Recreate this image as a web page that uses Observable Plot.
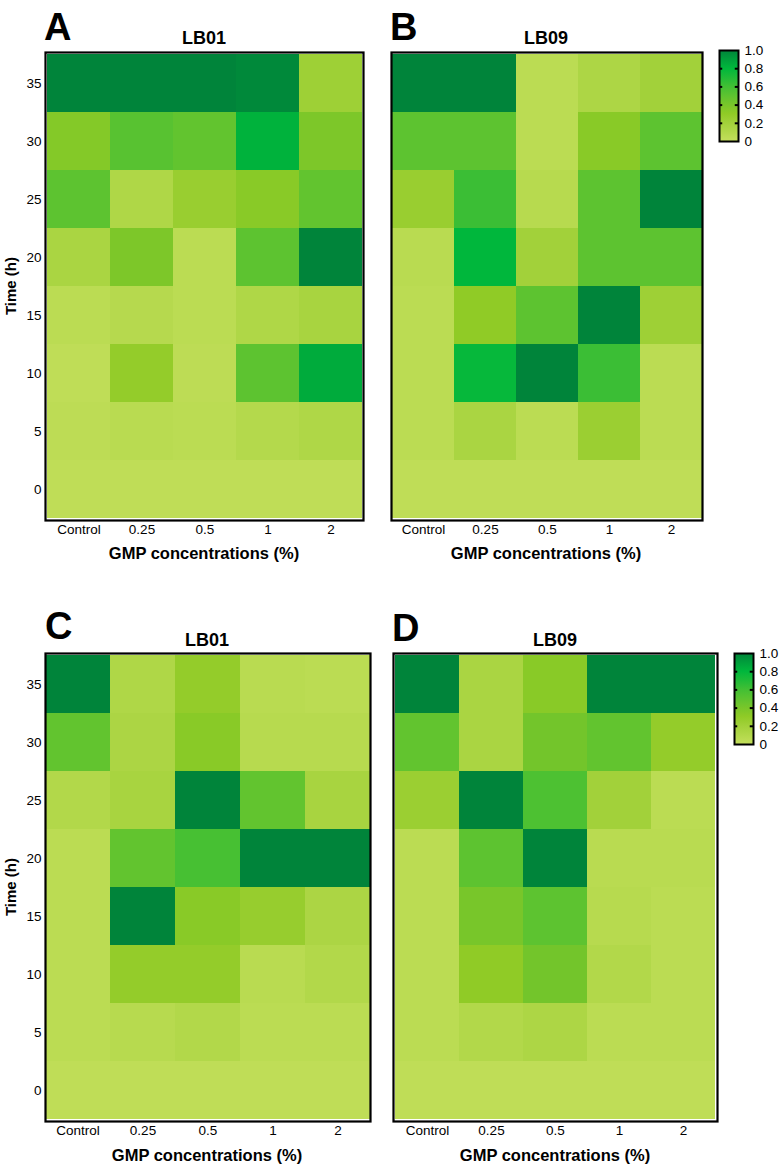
<!DOCTYPE html>
<html>
<head>
<meta charset="utf-8">
<script src="https://cdn.jsdelivr.net/npm/d3@7"></script>
<script src="https://cdn.jsdelivr.net/npm/@observablehq/plot@0.6"></script>
<style>
  html, body { margin: 0; padding: 0; background: #fff; }
  body { width: 782px; height: 1167px; position: relative; overflow: hidden;
         font-family: "Liberation Sans", Arial, sans-serif; color: #000; }
  .abs { position: absolute; }
  .letter { font-weight: bold; font-size: 38px; line-height: 1; }
  .ptitle { font-weight: bold; font-size: 18px; line-height: 1; transform: translate(-50%, -50%); white-space: nowrap; }
  .xtitle { font-weight: bold; font-size: 16.5px; line-height: 1; transform: translate(-50%, -50%); white-space: nowrap; }
  .ytitle { font-weight: bold; font-size: 15px; line-height: 1; transform: translate(-50%, -50%) rotate(-90deg); white-space: nowrap; }
  svg { overflow: visible; }
</style>
</head>
<body>
<svg width="0" height="0" style="position:absolute">
  <defs><linearGradient id="legendGrad" x1="0" y1="1" x2="0" y2="0"></linearGradient></defs>
</svg>
<script>
// ---- data ----
const concentrations = ["Control", "0.25", "0.5", "1", "2"];
const times = [0, 5, 10, 15, 20, 25, 30, 35];

// rows are times 0..35, columns are concentrations
const panelA = [
  [0.03, 0.03, 0.03, 0.03, 0.03],
  [0.04, 0.06, 0.05, 0.09, 0.12],
  [0.03, 0.28, 0.04, 0.50, 0.85],
  [0.05, 0.08, 0.05, 0.12, 0.16],
  [0.15, 0.38, 0.05, 0.50, 1.00],
  [0.50, 0.12, 0.25, 0.33, 0.48],
  [0.35, 0.52, 0.48, 0.82, 0.38],
  [1.00, 1.00, 1.00, 0.98, 0.22]
];
const panelB = [
  [0.03, 0.03, 0.03, 0.03, 0.03],
  [0.05, 0.15, 0.05, 0.24, 0.05],
  [0.05, 0.78, 1.00, 0.62, 0.05],
  [0.05, 0.30, 0.50, 1.00, 0.22],
  [0.06, 0.80, 0.20, 0.50, 0.50],
  [0.25, 0.62, 0.07, 0.50, 1.00],
  [0.50, 0.50, 0.05, 0.33, 0.50],
  [1.00, 1.00, 0.05, 0.13, 0.20]
];
const panelC = [
  [0.03, 0.03, 0.03, 0.03, 0.03],
  [0.05, 0.07, 0.10, 0.05, 0.05],
  [0.05, 0.28, 0.28, 0.06, 0.10],
  [0.05, 1.00, 0.33, 0.26, 0.14],
  [0.05, 0.48, 0.58, 1.00, 1.00],
  [0.10, 0.16, 1.00, 0.48, 0.16],
  [0.48, 0.14, 0.33, 0.07, 0.07],
  [1.00, 0.12, 0.28, 0.06, 0.05]
];
const panelD = [
  [0.03, 0.03, 0.03, 0.03, 0.03],
  [0.05, 0.10, 0.13, 0.05, 0.05],
  [0.05, 0.30, 0.42, 0.10, 0.05],
  [0.05, 0.40, 0.50, 0.07, 0.05],
  [0.05, 0.50, 1.00, 0.06, 0.06],
  [0.24, 1.00, 0.56, 0.20, 0.05],
  [0.48, 0.15, 0.42, 0.48, 0.28],
  [1.00, 0.15, 0.33, 1.00, 1.00]
];
const legendTicks = [0, 0.2, 0.4, 0.6, 0.8, 1.0];

// ---- styling ----
const colorStops = [0, 0.1, 0.2, 0.3, 0.4, 0.5, 0.6, 0.7, 0.8, 0.9, 1];
const colorRamp = ["#c4df5c", "#b2d84a", "#a2d13a", "#90cb26", "#78c62a", "#5dc330",
                   "#42bf34", "#1fbb38", "#00b73c", "#009e3b", "#00843a"];
const colorScale = { type: "linear", domain: colorStops, range: colorRamp, clamp: true };
const FONT = '"Liberation Sans", Arial, sans-serif';

// gradient for legends
const grad = document.getElementById("legendGrad");
colorStops.forEach((s, i) => {
  const st = document.createElementNS("http://www.w3.org/2000/svg", "stop");
  st.setAttribute("offset", s);
  st.setAttribute("stop-color", colorRamp[i]);
  grad.appendChild(st);
});

function toTable(m) {
  return times.flatMap((t, i) => concentrations.map((c, j) => ({ t, c, v: m[i][j] })));
}

function place(el, left, top) {
  el.style.position = "absolute";
  el.style.left = left + "px";
  el.style.top = top + "px";
  document.body.appendChild(el);
}
function label(cls, text, x, y) {
  const d = document.createElement("div");
  d.className = "abs " + cls;
  d.textContent = text;
  d.style.left = x + "px";
  d.style.top = y + "px";
  document.body.appendChild(d);
}

function heatmap(m, { left, top, width, ml, mr, showY }) {
  const mt = 2, mb = 48, fh = 468;
  const yScale = { type: "band", domain: times.slice().reverse(), padding: 0, label: null };
  if (!showY) yScale.axis = null;
  const p = Plot.plot({
    width, height: mt + fh + mb,
    marginLeft: ml, marginRight: mr, marginTop: mt, marginBottom: mb,
    style: { fontFamily: FONT, fontSize: "13.5px", color: "#000", background: "transparent" },
    x: { type: "band", domain: concentrations, padding: 0, label: null },
    y: yScale,
    color: colorScale,
    marks: [
      Plot.cell(toTable(m), { x: "c", y: "t", fill: "v", inset: 0 }),
      Plot.frame({ stroke: "#000", strokeWidth: 2.2 }),
      Plot.axisX({ tickSize: 0, tickPadding: 4, fontSize: 13.5, label: null }),
      showY ? Plot.axisY({ tickSize: 0, tickPadding: 4, fontSize: 13.5, label: null }) : null
    ]
  });
  place(p, left, top);
}

function legend(left, top) {
  const h = 91, w = 19;
  const p = Plot.plot({
    width: 2 + w + 40, height: h + 12,
    marginLeft: 2, marginRight: 40, marginTop: 6, marginBottom: 6,
    style: { fontFamily: FONT, fontSize: "13.5px", color: "#000", background: "transparent" },
    x: { domain: [0, 1], axis: null },
    y: { domain: [0, 1], label: null },
    marks: [
      Plot.rect([0], { x1: 0, x2: 1, y1: 0, y2: 1, fill: "url(#legendGrad)" }),
      Plot.ruleY(legendTicks.slice(1, -1), { x1: 0, x2: 0.17, stroke: "#000", strokeWidth: 2 }),
      Plot.ruleY(legendTicks.slice(1, -1), { x1: 0.83, x2: 1, stroke: "#000", strokeWidth: 2 }),
      Plot.frame({ stroke: "#000", strokeWidth: 2 }),
      Plot.axisY(legendTicks, { anchor: "right", tickSize: 0, tickPadding: 6, fontSize: 13.5,
        tickFormat: d => d === 0 ? "0" : d.toFixed(1), label: null })
    ]
  });
  place(p, left - 2, top - 6);
}

// Panels
heatmap(panelA, { left: 0, top: 50, width: 380, ml: 45, mr: 17, showY: true });
heatmap(panelB, { left: 380, top: 50, width: 324, ml: 11, mr: 2, showY: false });
heatmap(panelC, { left: 0, top: 651, width: 372, ml: 45, mr: 2, showY: true });
heatmap(panelD, { left: 380, top: 651, width: 339, ml: 13, mr: 2, showY: false });

legend(719, 50);
legend(734, 653);

// Text annotations
label("letter", "A", 44, 8);
label("letter", "B", 390, 8);
label("letter", "C", 45, 607);
label("letter", "D", 392, 609);

label("ptitle", "LB01", 204, 38);
label("ptitle", "LB09", 546, 38);
label("ptitle", "LB01", 207, 640);
label("ptitle", "LB09", 555, 640);

label("xtitle", "GMP concentrations (%)", 204, 553);
label("xtitle", "GMP concentrations (%)", 546, 553);
label("xtitle", "GMP concentrations (%)", 207, 1155);
label("xtitle", "GMP concentrations (%)", 555, 1155);

label("ytitle", "Time (h)", 10, 286);
label("ytitle", "Time (h)", 10, 887);
</script>
</body>
</html>
